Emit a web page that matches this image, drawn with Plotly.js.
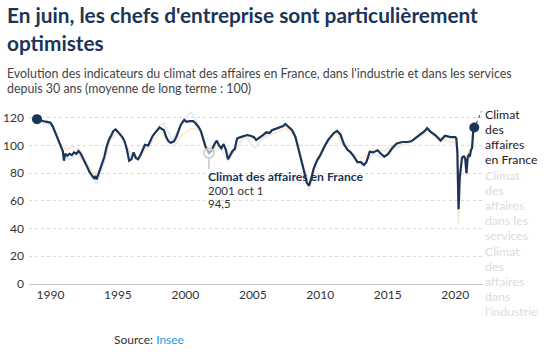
<!DOCTYPE html>
<html><head><meta charset="utf-8">
<script src="https://cdn.plot.ly/plotly-3.0.1.min.js"></script>
<style>html,body{margin:0;padding:0;background:#fff}#chart{width:558px;height:360px}</style>
</head><body><div id="chart"></div><script>
// Climat des affaires en France (composite)
const datesFrance = ['1989-01','1989-04','1989-07','1989-10','1990-01','1990-03','1990-05','1990-08','1990-10','1990-12',
'1991-01','1991-02','1991-04','1991-06','1991-08','1991-10','1991-12','1992-02','1992-04','1992-06','1992-08','1992-10','1992-12',
'1993-02','1993-04','1993-05','1993-06','1993-08','1993-10','1994-01','1994-03','1994-05','1994-07','1994-09','1994-11',
'1995-01','1995-03','1995-05','1995-07','1995-09','1995-11','1996-01','1996-03','1996-05','1996-07','1996-09','1996-11',
'1997-01','1997-04','1997-06','1997-08','1997-11','1998-02','1998-04','1998-06','1998-08','1998-10','1998-12',
'1999-03','1999-05','1999-07','1999-09','1999-12','2000-02','2000-05','2000-08','2000-10','2001-01','2001-03','2001-05','2001-07','2001-10','2001-12',
'2002-03','2002-05','2002-07','2002-09','2002-11','2003-01','2003-03','2003-05','2003-07','2003-09','2003-11',
'2004-02','2004-05','2004-08','2004-11','2005-02','2005-04','2005-06','2005-08','2005-10','2006-01','2006-04','2006-06','2006-09',
'2007-01','2007-04','2007-06','2007-09','2007-12','2008-03','2008-06','2008-09','2008-11','2009-01','2009-03','2009-05','2009-07','2009-10',
'2010-01','2010-04','2010-08','2011-01','2011-04','2011-07','2011-10','2012-01','2012-04','2012-07','2012-10',
'2013-01','2013-04','2013-06','2013-09','2013-12','2014-04','2014-07','2014-10','2015-01','2015-05','2015-09',
'2016-02','2016-06','2016-10','2017-01','2017-05','2017-10','2017-12','2018-03','2018-08','2018-12','2019-04','2019-09',
'2020-01','2020-02','2020-03','2020-04','2020-05','2020-06','2020-07','2020-08','2020-09','2020-10','2020-11','2020-12',
'2021-01','2021-02','2021-03','2021-04','2021-05','2021-06'];
const valuesFrance = [119,118,117.5,117,116.5,114,110,104,99,96,
89,94,92.5,94,93,95,94,96,94,91,87,84,80.5,
78,76,78,75.5,80,85,92,99,104,107,110.5,111.5,
110,108,106,103,97,89,90,95,91,90,93,97,
100.5,100,103,107,110,113,112,111,106,103,102,
103,106,111,115,118.5,117,117.5,117.5,116,113,110,104,99,94.5,96,
101,103.5,100,98,101,97,90,93,96,97.5,105,
106,107,107.5,107,106,104,105,106,107.5,109.5,109,111,112,
113,114,115.5,113.5,111,106,97,86,80,73,71,76,83,89,
93,98,104,109,110.5,108,101,97,95,92,88,
88,86,88,95.5,95,96.5,94,92,93.5,98,101.5,
102.5,102.5,103,105,107.5,110.5,112.5,110,107,103.5,107,106,
106,105,95,54,76,87,91,92,92,90,80,91,
93,92,96.5,98,110,113];

// Climat des affaires dans les services
const datesServices = ['1989-01','1990-01','1990-06','1991-01','1991-06','1992-01','1992-06','1993-01','1993-06','1994-01','1994-06',
'1995-01','1995-06','1996-01','1996-06','1997-01','1997-06','1998-01','1998-06','1999-01','1999-06','2000-01','2000-06','2000-10',
'2001-06','2001-10','2002-06','2003-03','2003-09','2004-06','2005-03','2005-09','2006-06','2007-06','2008-03','2008-09','2009-03','2009-09',
'2010-06','2011-03','2011-09','2012-06','2013-03','2013-12','2014-09','2015-06','2016-06','2017-06','2018-01','2018-09','2019-06',
'2020-02','2020-04','2020-06','2020-09','2020-11','2021-01','2021-03','2021-06'];
const valuesServices = [117,115,108,92,90,94,89,78,72,88,104,
111,104,92,91,98,104,114,116,104,110,120,124,119,
103,92,101,89,96,107,98,105,110,114,106,88,68,85,
101,109,104,92,85,94,91,98,101,107,112,105,106,
106,50,82,93,78,90,96,114];

// Climat des affaires dans l'industrie
const datesIndustrie = ['1989-01','1990-01','1990-09','1991-03','1991-09','1992-03','1992-09','1993-03','1993-09','1994-06',
'1995-01','1995-09','1996-03','1996-09','1997-06','1998-03','1998-09','1999-03','1999-09','2000-06','2001-01','2001-06','2001-12',
'2002-06','2003-03','2003-09','2004-06','2005-03','2005-09','2006-06','2007-06','2008-03','2008-09','2009-03','2009-09',
'2010-06','2011-03','2011-09','2012-06','2013-03','2013-12','2014-09','2015-06','2016-06','2017-06','2018-01','2018-09','2019-06',
'2020-02','2020-04','2020-06','2020-09','2020-11','2021-01','2021-03','2021-06'];
const valuesIndustrie = [118,117,102,97,99,97,88,80,82,103,
110,100,92,92,101,110,104,99,107,112,112,101,94,
100,94,97,106,105,104,108,112,108,88,72,88,
102,109,100,94,91,97,96,100,101,106,111,106,103,
102,43,80,93,92,96,98,107];

const xTickYears = ['1990','1995','2000','2005','2010','2015','2020'];
const yTicks = [0,20,40,60,80,100,120];

const tooltipDate = '2001-10';
const tooltipValue = 94.5;
const tooltipLabels = ['Climat des affaires en France','2001 oct 1','94,5'];

const labelFrance = ['Climat','des','affaires','en France'];
const labelServices = ['Climat','des','affaires','dans les','services'];
const labelIndustrie = ['Climat','des','affaires','dans',"l'industrie"];

const NAVY = '#1b3558';
const FONT = 'Lato, "Source Sans Pro", sans-serif';
const PLOT_L = 29, PLOT_R = 483, PLOT_T = 110, PLOT_B = 284;
const px2x = p => (p - PLOT_L) / (PLOT_R - PLOT_L);
const px2y = p => (PLOT_B - p) / (PLOT_B - PLOT_T);

const last = valuesFrance.length - 1;
const traces = [
  {x: datesServices, y: valuesServices, type: 'scatter', mode: 'lines', line: {color: '#dfe8f5', width: 1.5}, hoverinfo: 'skip'},
  {x: datesIndustrie, y: valuesIndustrie, type: 'scatter', mode: 'lines', line: {color: '#fbe9cb', width: 1.5}, hoverinfo: 'skip'},
  {x: datesFrance, y: valuesFrance, type: 'scatter', mode: 'lines', line: {color: NAVY, width: 2.2}, hoverinfo: 'skip'},
  {x: [datesFrance[0], datesFrance[last]], y: [valuesFrance[0], valuesFrance[last]], type: 'scatter', mode: 'markers',
   marker: {color: NAVY, size: 10}, hoverinfo: 'skip'},
  {x: [tooltipDate], y: [tooltipValue], type: 'scatter', mode: 'markers',
   marker: {color: 'rgba(255,255,255,0.6)', size: 10, line: {color: '#c8c8c8', width: 1.5}}, hoverinfo: 'skip'}
];

const ann = [];
ann.push({xref:'paper', yref:'paper', x: px2x(5), y: px2y(14), xanchor:'left', yanchor:'middle', align:'left', showarrow:false,
  text:"<b>En juin, les chefs d'entreprise sont particulièrement</b>", font:{family:FONT, size:20.8, color:NAVY}});
ann.push({xref:'paper', yref:'paper', x: px2x(5), y: px2y(42), xanchor:'left', yanchor:'middle', align:'left', showarrow:false,
  text:"<b>optimistes</b>", font:{family:FONT, size:20.8, color:NAVY}});
ann.push({xref:'paper', yref:'paper', x: px2x(5), y: px2y(73), xanchor:'left', yanchor:'middle', align:'left', showarrow:false,
  text:"Evolution des indicateurs du climat des affaires en France, dans l'industrie et dans les services",
  font:{family:FONT, size:12.4, color:'#444'}});
ann.push({xref:'paper', yref:'paper', x: px2x(5), y: px2y(88), xanchor:'left', yanchor:'middle', align:'left', showarrow:false,
  text:"depuis 30 ans (moyenne de long terme : 100)",
  font:{family:FONT, size:12.4, color:'#444'}});
ann.push({xref:'paper', yref:'paper', x: px2x(112), y: px2y(339), xanchor:'left', yanchor:'middle', showarrow:false,
  text:'Source: <span style="color:#1f9ae0">Insee</span>', font:{family:FONT, size:12, color:'#333'}});

// tooltip
ann.push({x: tooltipDate, y: tooltipValue, xanchor:'left', yanchor:'middle', xshift:-3, yshift:-23, showarrow:false,
  text:'<b>'+tooltipLabels[0]+'</b>', font:{family:FONT, size:12.2, color:NAVY}});
ann.push({x: tooltipDate, y: tooltipValue, xanchor:'left', yanchor:'middle', xshift:-3, yshift:-37, showarrow:false,
  text:tooltipLabels[1], font:{family:FONT, size:11.5, color:'#333'}});
ann.push({x: tooltipDate, y: tooltipValue, xanchor:'left', yanchor:'middle', xshift:-3, yshift:-50, showarrow:false,
  text:tooltipLabels[2], font:{family:FONT, size:11.5, color:'#333'}});

// right labels
function addLabel(lines, startY, color) {
  lines.forEach((t, i) => {
    ann.push({xref:'paper', yref:'paper', x: 1, y: px2y(startY + i*15), xanchor:'left', yanchor:'middle', xshift:0,
      showarrow:false, text:t, font:{family:FONT, size:12.3, color:color}});
  });
}
addLabel(labelFrance, 114, '#222');
addLabel(labelServices, 175, '#dcdcdc');
addLabel(labelIndustrie, 251, '#dcdcdc');

const shapes = [
  {type:'line', xref:'x', yref:'y', xsizemode:'pixel', ysizemode:'pixel', xanchor: datesFrance[last], yanchor: valuesFrance[last],
   x0:2, y0:4, x1:7, y1:16, line:{color:NAVY, width:1, dash:'dot'}},
  {type:'line', xref:'x', yref:'y', xsizemode:'pixel', ysizemode:'pixel', xanchor: tooltipDate, yanchor: tooltipValue,
   x0:0, y0:-6, x1:0, y1:-16, line:{color:'#c8c8c8', width:1.5}}
];

const layout = {
  width:558, height:360, margin:{l:PLOT_L, r:558-PLOT_R, t:PLOT_T, b:360-PLOT_B},
  paper_bgcolor:'#fff', plot_bgcolor:'#fff', showlegend:false,
  xaxis:{type:'date', range:['1988-05-30','2022-01-23'], tickvals: xTickYears.map(y => y+'-01-01'), ticktext: xTickYears,
    showgrid:false, zeroline:false, showline:true, linecolor:'#c4c4c4', linewidth:1, ticks:'',
    tickfont:{family:FONT, size:12, color:'#333'}},
  yaxis:{range:[0,125.6], tickvals:yTicks, ticktext: yTicks.map(String), showgrid:true, gridcolor:'#d9d9d9', griddash:'dot', gridwidth:1,
    zeroline:false, showline:false, ticks:'', ticklabelstandoff:4, tickfont:{family:FONT, size:12, color:'#333'}},
  annotations: ann, shapes: shapes, hovermode:false
};
Plotly.newPlot('chart', traces, layout, {staticPlot:true, displayModeBar:false});
</script></body></html>
